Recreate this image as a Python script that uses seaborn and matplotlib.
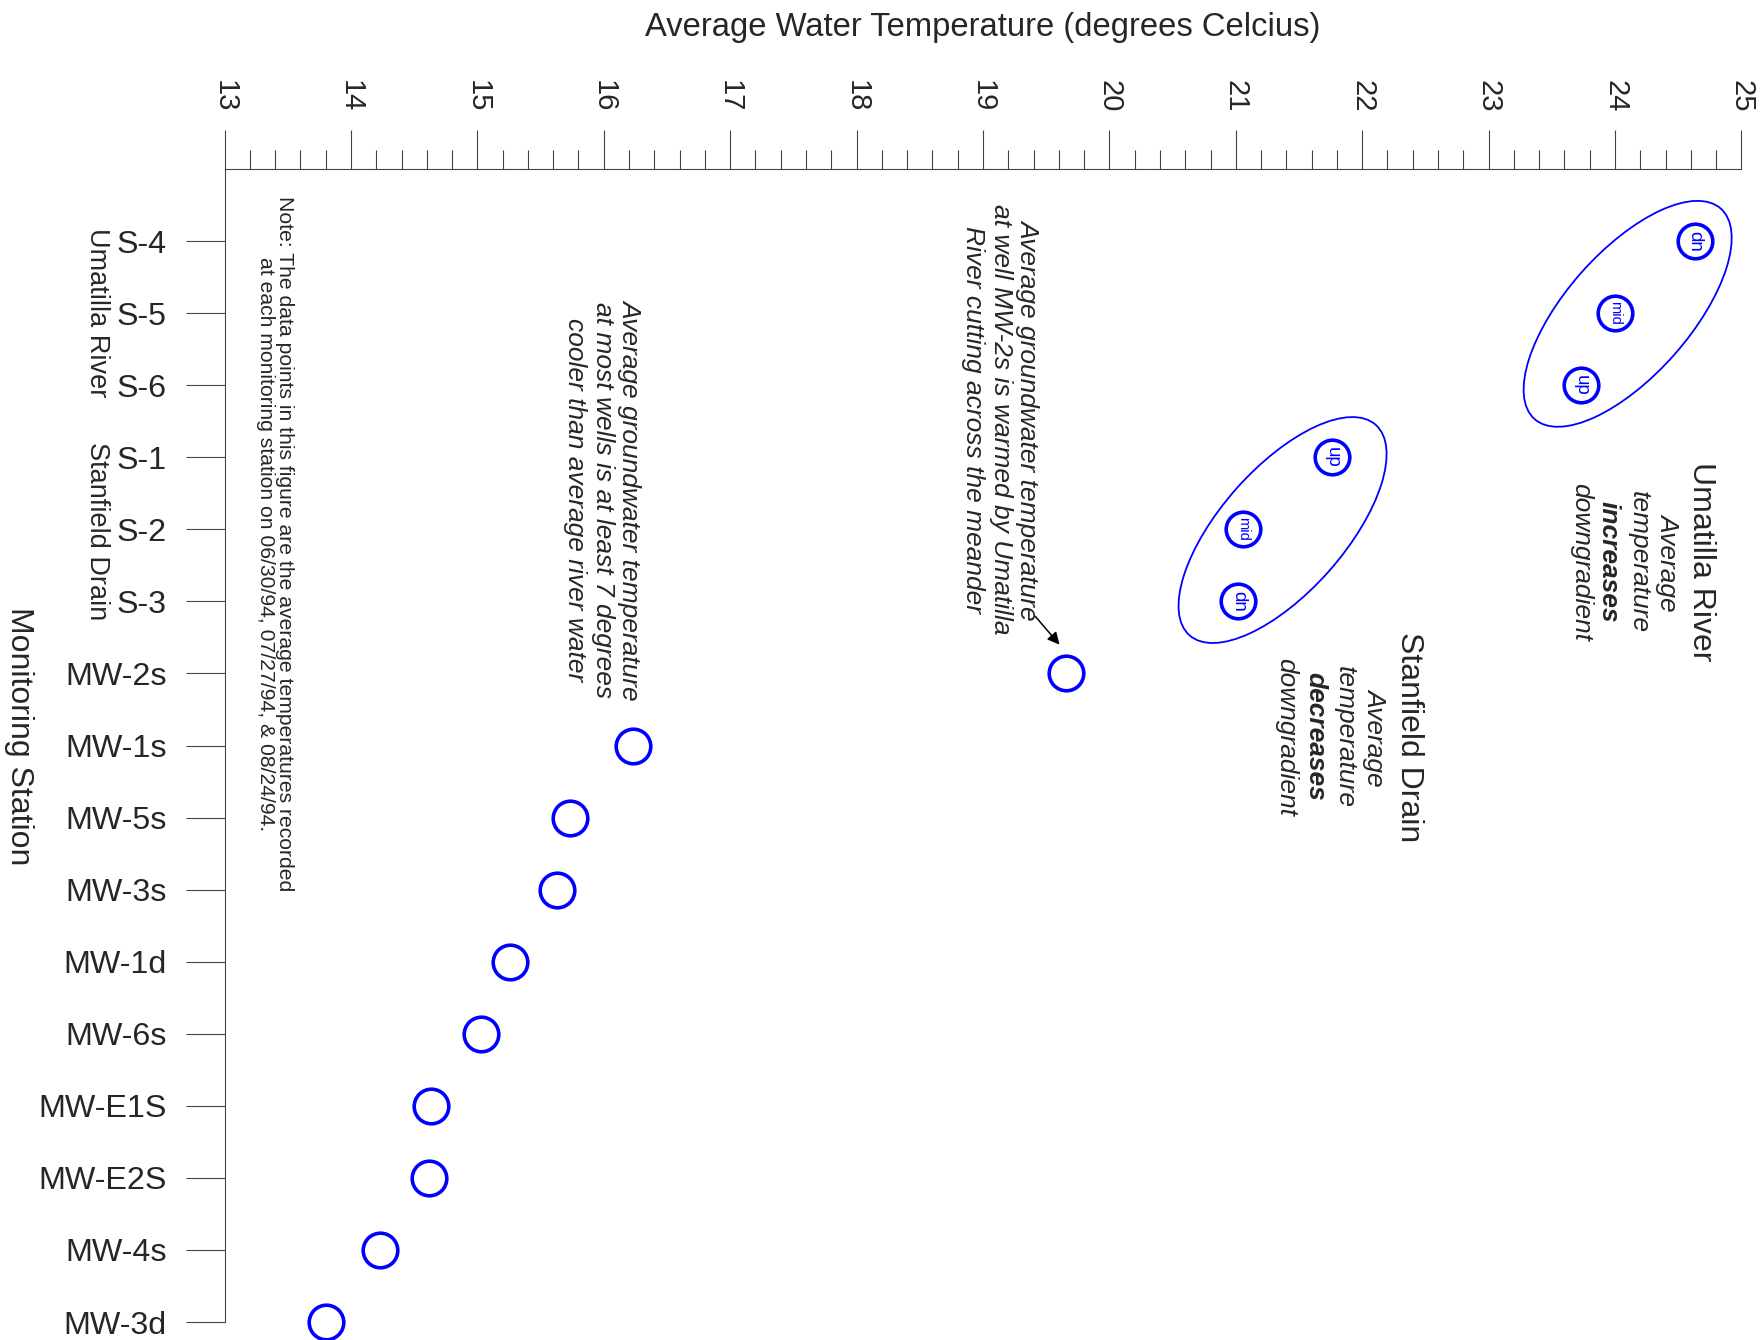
import numpy as np
import pandas as pd
import matplotlib.pyplot as plt
import seaborn as sns
from matplotlib.patches import Ellipse
from matplotlib.ticker import MultipleLocator
from matplotlib.transforms import ScaledTranslation

# Average water temperature per monitoring station
stations = ['S-4', 'S-5', 'S-6', 'S-1', 'S-2', 'S-3', 'MW-2s', 'MW-1s', 'MW-5s',
            'MW-3s', 'MW-1d', 'MW-6s', 'MW-E1S', 'MW-E2S', 'MW-4s', 'MW-3d']
avg_temp = [24.63, 24.0, 23.73, 21.76, 21.06, 21.02, 19.66, 16.23, 15.73,
            15.63, 15.26, 15.03, 14.63, 14.62, 14.23, 13.80]
surface_tags = ['dn', 'mid', 'up', 'up', 'mid', 'dn']
temp_ticks = list(range(13, 26))

df = pd.DataFrame({'station': stations, 'temp': avg_temp})
df['pos'] = np.arange(len(df))

sns.set_style('white')
plt.rcParams['font.family'] = ['Liberation Sans', 'DejaVu Sans']

fig = plt.figure(figsize=(17.64, 13.4), dpi=100)
ax = fig.add_axes([0.1273, 0.0134, 0.8599, 0.8605])

blue = '#0000ff'
sns.scatterplot(data=df, x='temp', y='pos', ax=ax, s=620, marker='o',
                facecolor='white', edgecolor=blue, linewidth=2.6,
                clip_on=False, zorder=3, legend=False)

# labels inside the surface water circles
for tag, x, y in zip(surface_tags, df['temp'][:6], df['pos'][:6]):
    ax.text(x, y, tag, rotation=-90, ha='center', va='center', color=blue,
            fontsize=10.5 if tag == 'mid' else 13.5, zorder=4)

# ellipses grouping the surface water stations
for cx, cy in [(24.10, 1.01), (21.37, 4.01)]:
    tr = fig.dpi_scale_trans + ScaledTranslation(cx, cy, ax.transData)
    ax.add_patch(Ellipse((0, 0), 2.81, 1.24, angle=48.5, transform=tr,
                         fill=False, edgecolor=blue, lw=1.3, zorder=2))

ax.set_xlim(13, 25)
ax.set_ylim(15, -1)
ax.set_xticks(temp_ticks)
ax.xaxis.set_minor_locator(MultipleLocator(0.2))
ax.set_yticks(df['pos'])
ax.set_yticklabels(stations)
ax.xaxis.tick_top()
ax.xaxis.set_label_position('top')
ax.tick_params(axis='x', which='major', direction='out', length=28, width=0.8,
               color='#444444', labelsize=21, labelrotation=-90, pad=13)
ax.tick_params(axis='x', which='minor', direction='out', length=14, width=0.8,
               color='#444444', top=True, bottom=False)
ax.tick_params(axis='y', direction='out', length=28, width=0.8, color='#444444',
               labelsize=23.2, pad=13.5, left=True)
for side in ['bottom', 'right']:
    ax.spines[side].set_visible(False)
for side in ['top', 'left']:
    ax.spines[side].set_color('#444444')
    ax.spines[side].set_linewidth(0.8)

ax.set_xlabel('Average Water Temperature (degrees Celcius)', fontsize=23.6, labelpad=31)
ax.set_ylabel('Monitoring Station', fontsize=23, rotation=-90, va='top', labelpad=3, y=0.508)

# group names left of the tick labels
yax = ax.get_yaxis_transform()
ax.text(-0.0838, 1, 'Umatilla River', transform=yax, rotation=-90,
        ha='center', va='center', fontsize=19.5, clip_on=False)
ax.text(-0.0838, 4.02, 'Stanfield Drain', transform=yax, rotation=-90,
        ha='center', va='center', fontsize=19.5, clip_on=False)

# annotations
ax.text(13.40, 4.2, 'Note: The data points in this figure are the average temperatures recorded\n'
        'at each monitoring station on 06/30/94, 07/27/94, & 08/24/94.',
        rotation=-90, ha='center', va='center', multialignment='center',
        fontsize=15.2, linespacing=1.0)
ax.text(15.99, 3.59, 'Average groundwater temperature\nat most wells is at least 7 degrees\n'
        'cooler than average river water', rotation=-90, ha='center', va='center',
        multialignment='center', fontsize=19, style='italic', linespacing=1.2)
ax.text(19.14, 2.47, 'Average groundwater temperature\nat well MW-2s is warmed by Umatilla\n'
        'River cutting across the meander', rotation=-90, ha='center', va='center',
        multialignment='center', fontsize=19, style='italic', linespacing=1.2)
ax.annotate('', xy=(19.62, 5.63), xytext=(19.40, 5.18),
            arrowprops=dict(arrowstyle='-|>', color='black', lw=1.1, mutation_scale=18))

# river / drain trend notes
notes = [
    (24.68, 4.45, 'Umatilla River', 23, 'normal', 'normal'),
    (24.42, 4.45, 'Average', 19, 'italic', 'normal'),
    (24.19, 4.45, 'temperature', 19, 'italic', 'normal'),
    (23.95, 4.45, 'increases', 19, 'italic', 'bold'),
    (23.73, 4.45, 'downgradient', 19, 'italic', 'normal'),
    (22.37, 6.88, 'Stanfield Drain', 23, 'normal', 'normal'),
    (22.10, 6.88, 'Average', 19, 'italic', 'normal'),
    (21.86, 6.88, 'temperature', 19, 'italic', 'normal'),
    (21.63, 6.88, 'decreases', 19, 'italic', 'bold'),
    (21.40, 6.88, 'downgradient', 19, 'italic', 'normal'),
]
for x, y, s, size, style, weight in notes:
    ax.text(x, y, s, rotation=-90, ha='center', va='center', fontsize=size,
            style=style, fontweight=weight)

fig.savefig('out.png', dpi=100)
